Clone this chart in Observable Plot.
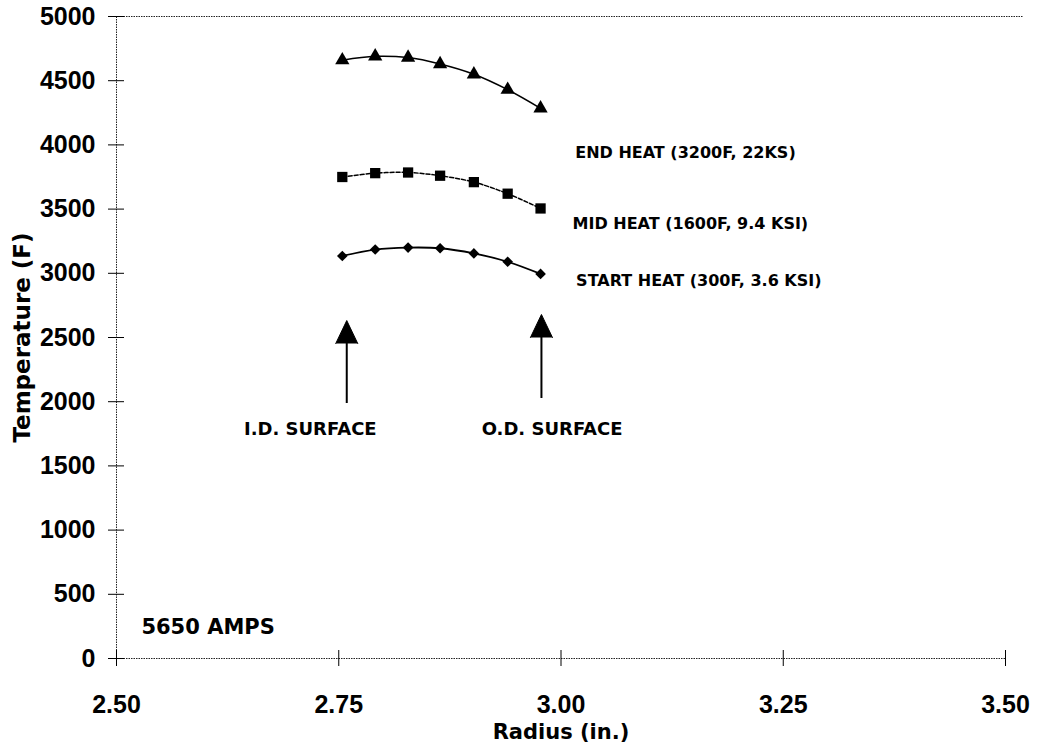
<!DOCTYPE html>
<html>
<head>
<meta charset="utf-8">
<script src="https://cdn.jsdelivr.net/npm/d3@7"></script>
<script src="https://cdn.jsdelivr.net/npm/@observablehq/plot@0.6"></script>
<style>
  body { margin: 0; background: #fff; }
  #chart svg { display: block; }
</style>
</head>
<body>
<div id="chart"></div>
<script>
// ---- data ----
const radius = [2.754, 2.791, 2.828, 2.864, 2.902, 2.940, 2.977];
const endHeat = [4660, 4690, 4680, 4630, 4550, 4430, 4285];
const midHeat = [3750, 3780, 3785, 3760, 3710, 3620, 3505];
const startHeat = [3135, 3185, 3200, 3195, 3155, 3090, 2995];

const seriesKeys = ["end", "mid", "start"];
const seriesLabels = ["END HEAT (3200F, 22KS)", "MID HEAT (1600F, 9.4 KSI)", "START HEAT (300F, 3.6 KSI)"];
const seriesLabelX = [3.016, 3.013, 3.017];
const seriesLabelY = [3935, 3385, 2940];

const xTicks = [2.50, 2.75, 3.00, 3.25, 3.50];
const yTicks = [0, 500, 1000, 1500, 2000, 2500, 3000, 3500, 4000, 4500, 5000];

const arrowX = [2.759, 2.978];
const arrowBottom = [1986, 2025];
const arrowHeadBase = [2453, 2500];
const arrowLabels = ["I.D. SURFACE", "O.D. SURFACE"];
const arrowLabelX = [2.718, 2.990];
const arrowLabelY = [1783, 1783];

const noteText = ["5650 AMPS"];
const noteX = [2.528];
const noteY = [241];

const xTitle = "Radius (in.)";
const yTitle = "Temperature (F)";

// ---- build tables ----
const seriesValues = {end: endHeat, mid: midHeat, start: startHeat};
const rows = seriesKeys.flatMap(k => radius.map((r, i) => ({series: k, r, t: seriesValues[k][i]})));
const labelRows = seriesLabels.map((text, i) => ({text, x: seriesLabelX[i], y: seriesLabelY[i]}));
const arrows = arrowX.map((x, i) => ({x, y1: arrowBottom[i], y2: arrowHeadBase[i], text: arrowLabels[i], tx: arrowLabelX[i], ty: arrowLabelY[i]}));
const notes = noteText.map((text, i) => ({text, x: noteX[i], y: noteY[i]}));

const annFont = "DejaVu Sans";
const dotted = {stroke: "#222", strokeWidth: 1, strokeDasharray: "1.5,1"};

const chart = Plot.plot({
  width: 1051,
  height: 752,
  marginLeft: 116,
  marginRight: 46,
  marginTop: 16,
  marginBottom: 94,
  style: {fontFamily: "Liberation Sans, Arial, sans-serif", fontWeight: "bold", color: "#000", background: "#fff"},
  x: {domain: [2.5, 3.5], label: null},
  y: {domain: [0, 5000], label: null},
  marks: [
    // frame lines (dotted)
    Plot.ruleX([2.5], {y1: 0, y2: 5000, ...dotted}),
    Plot.ruleY([0], {x1: 2.5, x2: 3.5, ...dotted}),
    Plot.ruleY([5000], {x1: 2.5, x2: 3.52, ...dotted}),
    // axes with crossing ticks
    Plot.axisY(yTicks, {tickSize: 16, dx: 8, tickPadding: 13, fontSize: 25, fontWeight: "bold", tickFormat: d3.format("d")}),
    Plot.axisX(xTicks, {tickSize: 16, dy: -8, tickPadding: 29, fontSize: 25, fontWeight: "bold", tickFormat: d3.format(".2f")}),
    // axis titles
    Plot.text([yTitle], {frameAnchor: "left", textAnchor: "middle", dx: -94, rotate: -90, fontFamily: annFont, fontSize: 23, fontWeight: "bold"}),
    Plot.text([xTitle], {frameAnchor: "bottom", textAnchor: "middle", dy: 80, fontFamily: annFont, fontSize: 21, fontWeight: "bold"}),
    // series lines
    Plot.line(rows.filter(d => d.series === "end"), {x: "r", y: "t", curve: "catmull-rom", stroke: "#000", strokeWidth: 1.5}),
    Plot.line(rows.filter(d => d.series === "mid"), {x: "r", y: "t", curve: "catmull-rom", stroke: "#000", strokeWidth: 1.5, strokeDasharray: "4,2"}),
    Plot.line(rows.filter(d => d.series === "start"), {x: "r", y: "t", curve: "catmull-rom", stroke: "#000", strokeWidth: 1.8}),
    // markers
    Plot.dot(rows.filter(d => d.series === "end"), {x: "r", y: "t", symbol: "triangle", r: 5.3, fill: "#000"}),
    Plot.dot(rows.filter(d => d.series === "mid"), {x: "r", y: "t", symbol: "square", r: 5.8, fill: "#000"}),
    Plot.dot(rows.filter(d => d.series === "start"), {x: "r", y: "t", symbol: "diamond2", r: 4.8, fill: "#000"}),
    // series labels
    Plot.text(labelRows, {x: "x", y: "y", text: "text", textAnchor: "start", fontFamily: annFont, fontWeight: "bold", fontSize: 16}),
    // arrows
    Plot.ruleX(arrows, {x: "x", y1: "y1", y2: "y2", stroke: "#000", strokeWidth: 2}),
    Plot.vector(arrows, {x: "x", y: "y2", anchor: "start", length: 23, r: 11, shape: "spike", fill: "#000", stroke: "#000", strokeWidth: 1}),
    Plot.text(arrows, {x: "tx", y: "ty", text: "text", fontFamily: annFont, fontWeight: "bold", fontSize: 18}),
    // note
    Plot.text(notes, {x: "x", y: "y", text: "text", textAnchor: "start", fontFamily: annFont, fontWeight: "bold", fontSize: 21})
  ]
});
document.getElementById("chart").append(chart);
</script>
</body>
</html>
